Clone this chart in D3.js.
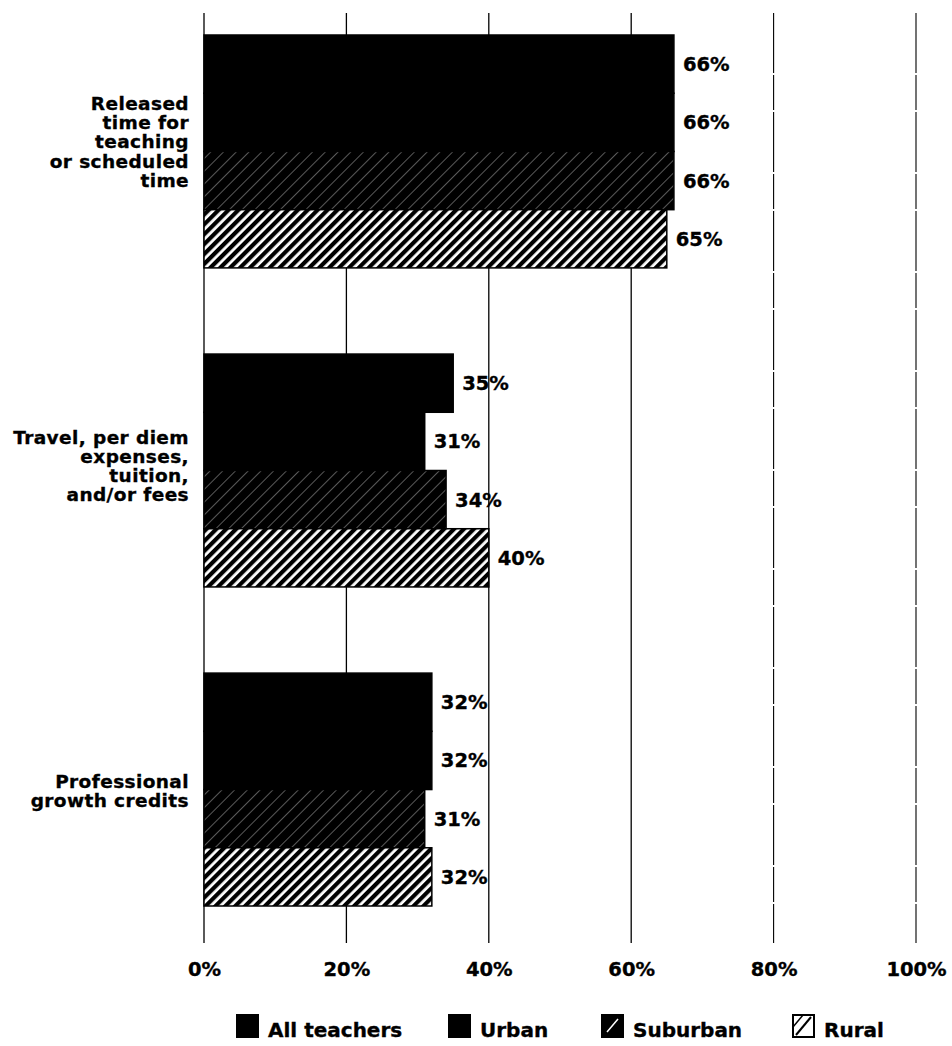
<!DOCTYPE html>
<html>
<head>
<meta charset="utf-8">
<script src="https://cdn.jsdelivr.net/npm/d3@7"></script>
<style>
  html, body { margin: 0; padding: 0; background: #fff; }
  svg { display: block; }
  text { font-family: "DejaVu Sans", "Liberation Sans", Arial, sans-serif; font-weight: bold; fill: #000; stroke: #000; stroke-width: 0.35px; }
</style>
</head>
<body>
<svg id="chart" width="952" height="1046"></svg>
<script>
// ---- data ----
const categories = ["Released time for teaching or scheduled time", "Travel, per diem expenses, tuition, and/or fees", "Professional growth credits"];
const categoryLines = [
  ["Released", "time for", "teaching", "or scheduled", "time"],
  ["Travel, per diem", "expenses,", "tuition,", "and/or fees"],
  ["Professional", "growth credits"]
];
const seriesNames = ["All teachers", "Urban", "Suburban", "Rural"];
const allTeachers = [66, 35, 32];
const urban       = [66, 31, 32];
const suburban    = [66, 34, 31];
const rural       = [65, 40, 32];
const tickValues  = [0, 20, 40, 60, 80, 100];
const tickLabels  = ["0%", "20%", "40%", "60%", "80%", "100%"];

const seriesValues = [allTeachers, urban, suburban, rural];
const rows = [];
categories.forEach((c, ci) => {
  seriesNames.forEach((s, si) => rows.push({ cat: c, ci, series: s, si, value: seriesValues[si][ci] }));
});

// ---- setup ----
const svg = d3.select("#chart");
const defs = svg.append("defs");

// Suburban: black with thin white diagonal hatch
const pSub = defs.append("pattern").attr("id", "pSub").attr("patternUnits", "userSpaceOnUse")
  .attr("width", 9).attr("height", 9).attr("patternTransform", "rotate(45)");
pSub.append("rect").attr("width", 9).attr("height", 9).attr("fill", "#000");
pSub.append("line").attr("x1", 4.5).attr("y1", 0).attr("x2", 4.5).attr("y2", 9)
  .attr("stroke", "#fff").attr("stroke-width", 1).attr("stroke-opacity", 0.35);

// Rural: white with heavy black diagonal stripes
const pRur = defs.append("pattern").attr("id", "pRur").attr("patternUnits", "userSpaceOnUse")
  .attr("width", 7).attr("height", 7).attr("patternTransform", "rotate(45)");
pRur.append("rect").attr("width", 7).attr("height", 7).attr("fill", "#fff");
pRur.append("rect").attr("x", 0).attr("y", 0).attr("width", 4.2).attr("height", 7).attr("fill", "#000");

const fills = ["#000", "#000", "url(#pSub)", "url(#pRur)"];

const x = d3.scaleLinear().domain([0, 100]).range([204, 916]);
const y0 = d3.scaleBand().domain(categories).range([35, 906]).paddingInner(0.27).paddingOuter(0);
const y1 = d3.scaleBand().domain(seriesNames).range([0, y0.bandwidth()]);

// gridlines
svg.append("g").selectAll("line").data(tickValues).join("line")
  .attr("x1", d => x(d)).attr("x2", d => x(d))
  .attr("y1", 13).attr("y2", 943)
  .attr("stroke", "#000")
  .attr("stroke-width", d => d >= 80 ? 1.1 : 1.3)
  .attr("stroke-dasharray", d => d >= 80 ? "60,2,35,2" : null);

// bars
svg.append("g").selectAll("rect").data(rows).join("rect")
  .attr("x", x(0))
  .attr("y", d => y0(d.cat) + y1(d.series))
  .attr("width", d => x(d.value) - x(0))
  .attr("height", y1.bandwidth())
  .attr("fill", d => fills[d.si])
  .attr("stroke", "#000").attr("stroke-width", 1.5);

// value labels
svg.append("g").selectAll("text").data(rows).join("text")
  .attr("x", d => x(d.value) + 9)
  .attr("y", d => y0(d.cat) + y1(d.series) + y1.bandwidth() / 2)
  .attr("dy", "0.36em")
  .attr("font-size", 19.5)
  .text(d => d.value + "%");

// category labels
const catG = svg.append("g");
const labelShift = [-10, -5, 1];
categories.forEach((c, ci) => {
  const lines = categoryLines[ci];
  const center = y0(c) + y0.bandwidth() / 2 + labelShift[ci];
  const lh = 19.2;
  const t = catG.append("text").attr("text-anchor", "end").attr("font-size", 18.5)
    .attr("letter-spacing", "0.4px");
  lines.forEach((ln, i) => {
    t.append("tspan").attr("x", 189)
      .attr("y", center + 7 + (i - (lines.length - 1) / 2) * lh)
      .text(ln);
  });
});

// x axis labels
const axis = d3.axisBottom(x).tickValues(tickValues).tickFormat((d, i) => tickLabels[i]).tickSize(0).tickPadding(0);
const axG = svg.append("g").attr("transform", "translate(0,962)").call(axis);
axG.select(".domain").remove();
axG.attr("font-family", null);
axG.selectAll("text").attr("font-size", 19.5).attr("fill", "#000").attr("dy", "0.71em");

// legend
const legendX = [236, 448, 601, 792];
const leg = svg.append("g");
seriesNames.forEach((s, si) => {
  const g = leg.append("g").attr("transform", `translate(${legendX[si]},1014)`);
  if (si === 3) {
    g.append("rect").attr("x", 1).attr("y", 1).attr("width", 21).attr("height", 22)
      .attr("fill", "#fff").attr("stroke", "#000").attr("stroke-width", 2);
    g.append("line").attr("x1", 4).attr("y1", 21).attr("x2", 19).attr("y2", 3)
      .attr("stroke", "#000").attr("stroke-width", 2);
    g.append("line").attr("x1", 1).attr("y1", 13).attr("x2", 11).attr("y2", 1)
      .attr("stroke", "#000").attr("stroke-width", 1.5);
  } else {
    g.append("rect").attr("width", 23).attr("height", 24).attr("fill", "#000");
    if (si === 2) {
      g.append("line").attr("x1", 6).attr("y1", 18).attr("x2", 17).attr("y2", 5)
        .attr("stroke", "#fff").attr("stroke-width", 1.5);
    }
  }
  g.append("text").attr("x", 32).attr("y", 23).attr("font-size", 20).text(s);
});
</script>
</body>
</html>
